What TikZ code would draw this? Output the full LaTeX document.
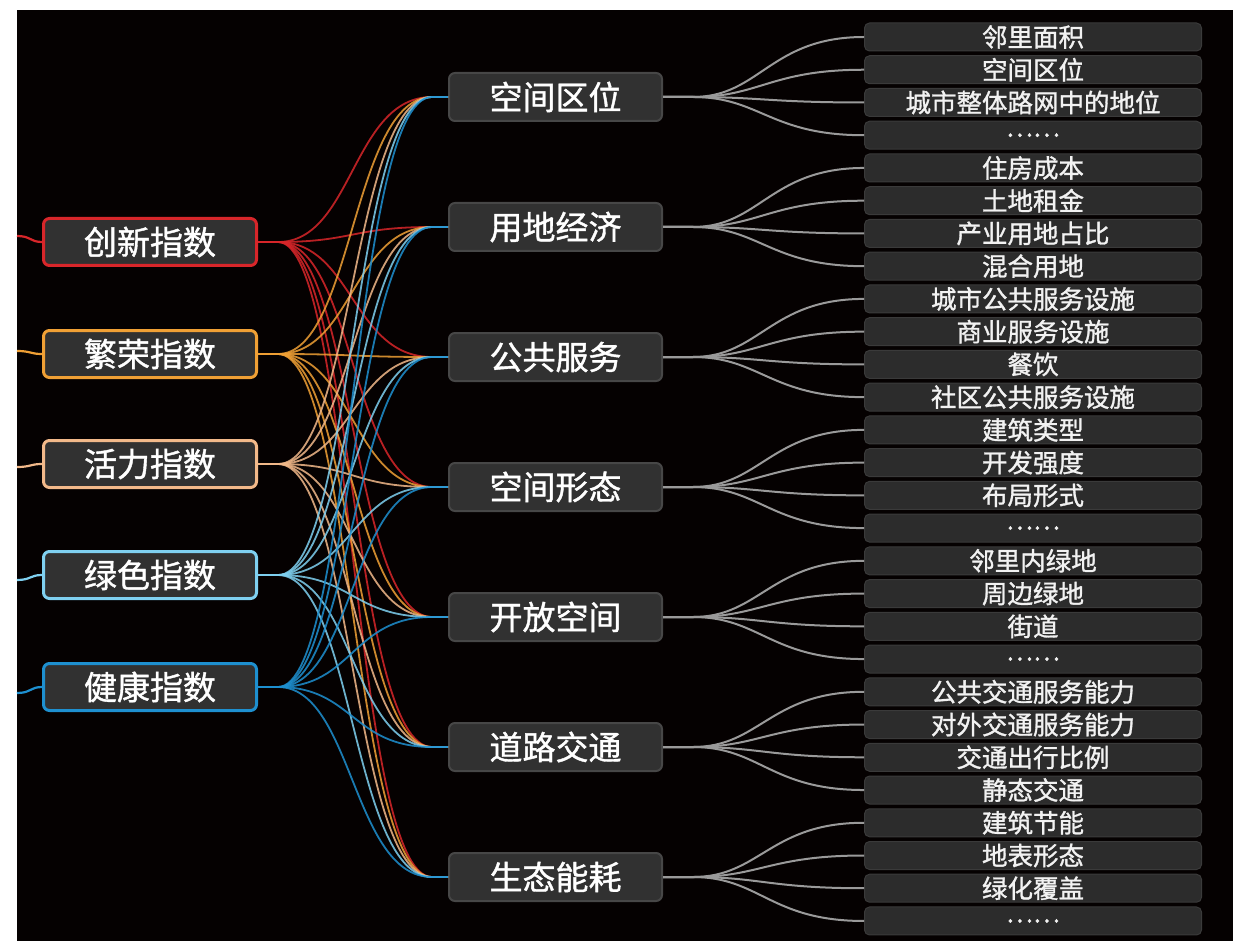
\documentclass[tikz,border=0pt]{standalone}
\usepackage{fontspec}
\setmainfont{Noto Sans CJK SC}[AutoFakeBold=1.2]
\usetikzlibrary{calc}
\definecolor{bg}{HTML}{050101}
\definecolor{cRed}{HTML}{D8262A}
\definecolor{cOrange}{HTML}{F0A035}
\definecolor{cPeach}{HTML}{F2B98A}
\definecolor{cLBlue}{HTML}{7FD0F0}
\definecolor{cBlue}{HTML}{1E90D0}
\definecolor{nodefill}{HTML}{313131}
\definecolor{midborder}{HTML}{474747}
\definecolor{rfill}{HTML}{2C2C2C}
\definecolor{rborder}{HTML}{3A3A3A}
\definecolor{glink}{HTML}{9A9A9A}
\begin{document}
\begin{tikzpicture}[x=1pt,y=-1pt,
  lnode/.style={draw, line width=3pt, fill=nodefill, rounded corners=6pt,
    minimum width=213pt, minimum height=47pt, inner sep=0pt, text=white,
    font=\fontsize{33}{33}\selectfont\bfseries},
  mnode/.style={draw=midborder, line width=2pt, fill=nodefill, rounded corners=6pt,
    minimum width=213pt, minimum height=48pt, inner sep=0pt, text=white,
    font=\fontsize{33}{33}\selectfont\bfseries},
  rnode/.style={draw=rborder, line width=1pt, fill=rfill, rounded corners=5pt,
    minimum width=337pt, minimum height=28pt, inner sep=0pt, text=white!95!black,
    font=\fontsize{25.5}{26}\selectfont\bfseries},
  clink/.style={line width=1.8pt, opacity=0.85},
  graylink/.style={glink, line width=2pt}
]
\useasboundingbox (0,0) rectangle (1247,941);
\fill[white] (0,0) rectangle (1247,941);
\fill[bg] (17,10) rectangle (1233,941);

% left nodes
\node[lnode, draw=cRed]    (L1) at (150,242) {创新指数};
\node[lnode, draw=cOrange] (L2) at (150,354) {繁荣指数};
\node[lnode, draw=cPeach]  (L3) at (150,464) {活力指数};
\node[lnode, draw=cLBlue]  (L4) at (150,575) {绿色指数};
\node[lnode, draw=cBlue]   (L5) at (150,687) {健康指数};

% middle nodes
\foreach \t [count=\j] in {空间区位,用地经济,公共服务,空间形态,开放空间,道路交通,生态能耗}
  \node[mnode] (M\j) at (555.5,{97+130*(\j-1)}) {\t};

% right nodes
\foreach \t [count=\i] in {邻里面积,空间区位,城市整体路网中的地位,……,
  住房成本,土地租金,产业用地占比,混合用地,
  城市公共服务设施,商业服务设施,餐饮,社区公共服务设施,
  建筑类型,开发强度,布局形式,……,
  邻里内绿地,周边绿地,街道,……,
  公共交通服务能力,对外交通服务能力,交通出行比例,静态交通,
  建筑节能,地表形态,绿化覆盖,……}
  \node[rnode] (R\i) at (1033,{37+32.74*(\i-1)}) {\t};

% stubs at the left edge
\coordinate (s1) at (17,236);
\coordinate (s2) at (17,351);
\coordinate (s3) at (17,467);
\coordinate (s4) at (17,580);
\coordinate (s5) at (17,693);
\foreach \i/\c in {1/cRed,2/cOrange,3/cPeach,4/cLBlue,5/cBlue}
  \draw[\c, line width=2.2pt] (s\i) .. controls +(14,0) and +(-12,0) .. (L\i.west);

% coloured links left -> middle
\foreach \i/\c in {1/cRed,2/cOrange,3/cPeach,4/cLBlue,5/cBlue}
  \foreach \j in {1,...,7}
    \draw[\c, clink] (L\i.east) -- ++(20,0)
      .. controls +(75,0) and +(-80,0) .. ($(M\j.west)+(-16,0)$) -- (M\j.west);

% grey links middle -> right
\foreach \j in {1,...,7}
  \foreach \k in {1,...,4}{
    \pgfmathtruncatemacro{\r}{4*(\j-1)+\k}
    \draw[graylink] (M\j.east) -- ++(30,0)
      .. controls +(67,0) and +(-94,0) .. (R\r.west);
  }
\end{tikzpicture}
\end{document}
